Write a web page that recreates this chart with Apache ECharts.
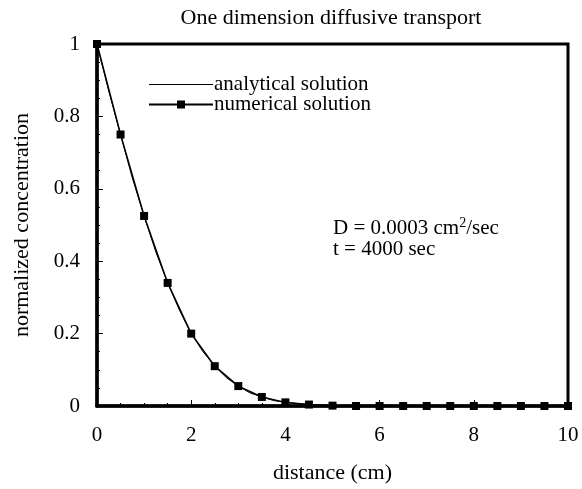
<!DOCTYPE html>
<html><head><meta charset="utf-8">
<script src="https://cdn.jsdelivr.net/npm/echarts@6/dist/echarts.min.js"></script>
<style>html,body{margin:0;padding:0;background:#fff}#c{width:582px;height:489px}</style>
</head><body><div id="c"></div>
<script>
const titleText = "One dimension diffusive transport";
const xLabel = "distance (cm)";
const yLabel = "normalized concentration";
const numX = [0,0.5,1,1.5,2,2.5,3,3.5,4,4.5,5,5.5,6,6.5,7,7.5,8,8.5,9,9.5,10];
const numY = [1,0.75,0.525,0.34,0.2,0.11,0.055,0.025,0.01,0.004,0.001,0,0,0,0,0,0,0,0,0,0];
const anaX = [0,0.25,0.5,0.75,1,1.25,1.5,1.75,2,2.25,2.5,2.75,3,3.25,3.5,3.75,4,4.5,5,6,7,8,9,10];
const anaY = [1,0.87,0.75,0.63,0.525,0.425,0.34,0.265,0.2,0.15,0.11,0.078,0.055,0.036,0.025,0.015,0.01,0.004,0.001,0,0,0,0,0];
const xTicks = [0,2,4,6,8,10];
const yTicks = [0,0.2,0.4,0.6,0.8,1];

const chart = echarts.init(document.getElementById('c'));
const serif = "Liberation Serif, Times New Roman, serif";
chart.setOption({
  animation:false,
  backgroundColor:'#fff',
  title:{text:titleText,left:326,top:2,textAlign:'center',textStyle:{fontFamily:serif,fontSize:22,fontWeight:'normal',color:'#000'}},
  grid:{left:97,right:14,top:44,bottom:80,show:true,borderColor:'#000',borderWidth:3,backgroundColor:'transparent'},
  xAxis:{type:'value',min:0,max:10,interval:2,
    name:xLabel,nameLocation:'middle',nameGap:56,nameTextStyle:{fontFamily:serif,fontSize:22,color:'#000'},
    axisLine:{lineStyle:{color:'#000',width:3.5}},
    axisTick:{inside:true,length:6,lineStyle:{color:'#000'}},
    minorTick:{show:true,splitNumber:4,length:3,lineStyle:{color:'#000'}},
    axisLabel:{fontFamily:serif,fontSize:21,color:'#000',margin:19,formatter:v=>xTicks.includes(v)?String(v):''},
    splitLine:{show:false}},
  yAxis:{type:'value',min:0,max:1,interval:0.2,
    name:yLabel,nameLocation:'middle',nameGap:64,nameTextStyle:{fontFamily:serif,fontSize:22,color:'#000'},
    axisLine:{lineStyle:{color:'#000',width:3.5}},
    axisTick:{inside:true,length:6,lineStyle:{color:'#000'}},
    minorTick:{show:true,splitNumber:4,length:3,lineStyle:{color:'#000'}},
    axisLabel:{fontFamily:serif,fontSize:21,color:'#000',margin:17,formatter:v=>yTicks.includes(v)?String(v):''},
    splitLine:{show:false}},
  legend:{show:true,left:143,top:69,orient:'vertical',itemWidth:64,itemHeight:10,itemGap:-1,symbolKeepAspect:false,
    textStyle:{fontFamily:serif,fontSize:21,color:'#000',padding:[0,0,0,-4]},
    data:[{name:'analytical solution',icon:'path://M0,0 M0,4.5 L64,4.5 L64,5.5 L0,5.5 Z M64,10'},{name:'numerical solution'}]},
  series:[
    {name:'analytical solution',type:'line',data:anaX.map((x,i)=>[x,anaY[i]]),showSymbol:false,symbol:'none',
      lineStyle:{color:'#000',width:1},itemStyle:{color:'#000'},z:2},
    {name:'numerical solution',type:'line',data:numX.map((x,i)=>[x,numY[i]]),symbol:'rect',symbolSize:8,
      lineStyle:{color:'#000',width:1.5},itemStyle:{color:'#000'},z:3}
  ],
  graphic:[
    {type:'text',left:333,top:216,style:{rich:{n:{fontFamily:serif,fontSize:21,fill:'#000'},s:{fontFamily:serif,fontSize:14,fill:'#000',verticalAlign:'top',padding:[0,0,10,0]}},text:'{n|D = 0.0003 cm}{s|2}{n|/sec}'}},
    {type:'text',left:333,top:239,style:{fontFamily:serif,fontSize:21,fill:'#000',text:'t = 4000 sec'}}
  ]
});
</script></body></html>
